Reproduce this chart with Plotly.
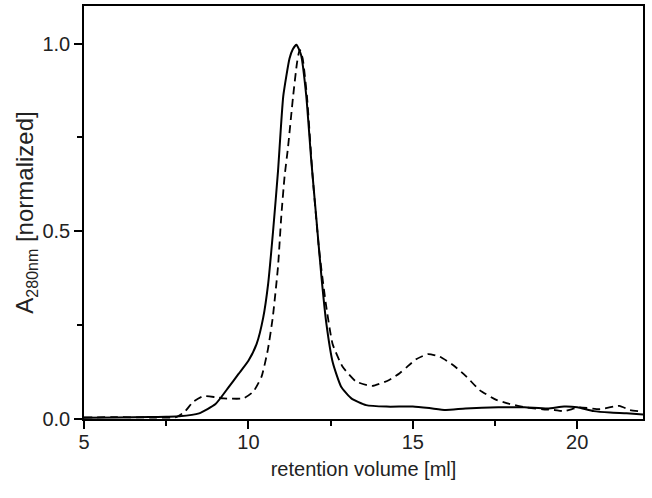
import plotly.graph_objects as go

# solid trace
solid_x = [5.0, 6.0, 7.0, 7.5, 7.9, 8.5, 9.0, 9.4, 9.7, 10.0, 10.25, 10.45, 10.6, 10.75, 10.9,
           11.06, 11.25, 11.35, 11.46, 11.6, 11.76, 11.91, 12.06, 12.22, 12.37, 12.57, 12.82,
           13.13, 13.58, 14.2, 15.0, 15.5, 16.0, 16.6, 17.6, 18.4, 19.1, 19.6, 20.0, 20.5,
           21.0, 21.5, 22.0]
solid_y = [0.003, 0.004, 0.005, 0.006, 0.007, 0.015, 0.04, 0.085, 0.12, 0.155, 0.2, 0.27, 0.36,
           0.5, 0.66, 0.86, 0.96, 0.985, 0.997, 0.97, 0.86, 0.69, 0.54, 0.38, 0.255, 0.149,
           0.086, 0.055, 0.037, 0.033, 0.033, 0.029, 0.024, 0.028, 0.031, 0.031, 0.028, 0.033,
           0.031, 0.021, 0.017, 0.015, 0.012]

# dashed trace
dash_x = [5.0, 6.0, 7.0, 7.8, 8.07, 8.32, 8.63, 9.0, 9.24, 9.85, 10.15, 10.4, 10.59, 10.74,
          10.9, 11.0, 11.1, 11.2, 11.36, 11.48, 11.56, 11.65, 11.78, 11.95, 12.15, 12.35,
          12.56, 12.86, 13.27, 13.77, 14.28, 14.6, 14.8, 15.1, 15.46, 15.82, 16.22, 16.63,
          17.03, 17.54, 17.94, 18.45, 18.95, 19.3, 19.6, 20.07, 20.68, 21.28, 21.6, 22.0]
dash_y = [0.004, 0.005, 0.004, 0.005, 0.02, 0.046, 0.061, 0.058, 0.055, 0.055, 0.073, 0.113,
          0.184, 0.27, 0.406, 0.54, 0.646, 0.72, 0.86, 0.95, 0.984, 0.96, 0.86, 0.65, 0.45,
          0.31, 0.2, 0.14, 0.1, 0.088, 0.104, 0.122, 0.137, 0.159, 0.173, 0.166, 0.144, 0.113,
          0.077, 0.051, 0.04, 0.031, 0.026, 0.024, 0.021, 0.031, 0.026, 0.035, 0.024, 0.02]

x_ticks = [5, 10, 15, 20]
y_ticks = [0.0, 0.5, 1.0]

font = "Liberation Sans, Arial, sans-serif"

fig = go.Figure()
fig.add_trace(go.Scatter(x=dash_x, y=dash_y, mode="lines",
                         line=dict(color="black", width=1.8, dash="8px,5px", shape="spline", smoothing=0.5)))
fig.add_trace(go.Scatter(x=solid_x, y=solid_y, mode="lines",
                         line=dict(color="black", width=2, shape="spline", smoothing=0.5)))

fig.update_layout(
    width=652, height=498,
    margin=dict(l=84, r=9, t=6, b=79),
    plot_bgcolor="white", paper_bgcolor="white",
    showlegend=False,
    font=dict(family=font, color="#222", size=20),
)
fig.update_xaxes(
    range=[5, 22], tickvals=x_ticks, ticks="outside", ticklen=8, tickwidth=1.5,
    tickcolor="black", showline=True, linecolor="black", linewidth=1.5, mirror=True,
    showgrid=False, zeroline=False, tickfont=dict(size=20, family=font), automargin=False,
    ticklabelstandoff=-4,
    minor=dict(tickvals=[7.5, 12.5, 17.5], ticks="outside", ticklen=5, tickwidth=1.5, tickcolor="black"),
    title=dict(text="retention volume [ml]", font=dict(size=20, family=font), standoff=10),
)
fig.update_yaxes(
    range=[0, 1.1], tickvals=y_ticks, tickformat=".1f", ticks="outside", ticklen=8, tickwidth=1.5,
    tickcolor="black", showline=True, linecolor="black", linewidth=1.5, mirror=True,
    showgrid=False, zeroline=False, tickfont=dict(size=20, family=font), automargin=False,
    minor=dict(tickvals=[0.25, 0.75], ticks="outside", ticklen=5, tickwidth=1.5, tickcolor="black"),
    title=dict(text="A<sub><span style='font-size:16px'>280nm</span></sub> [normalized]",
               font=dict(size=24, family=font), standoff=2),
)

fig.write_html("out.html", config={"displayModeBar": False},
               post_script="document.body.style.margin='0';document.body.style.padding='0';")
